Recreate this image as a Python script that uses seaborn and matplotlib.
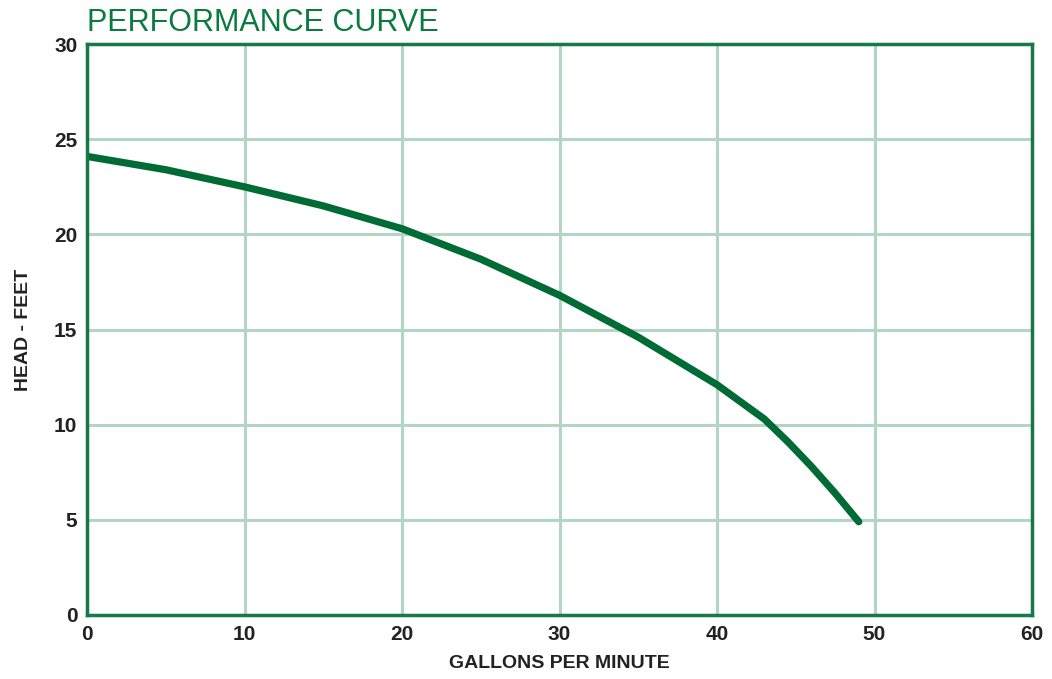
import seaborn as sns
import pandas as pd
from matplotlib import pyplot as plt

# values
GPM = [0, 5, 10, 15, 20, 25, 30, 35, 40, 41.5, 43, 44.5, 46, 47.5, 49]
HEAD = [24.1, 23.4, 22.5, 21.5, 20.3, 18.7, 16.8, 14.6, 12.1, 11.2, 10.3, 9.1, 7.8, 6.4, 4.9]
X_TICKS = [0, 10, 20, 30, 40, 50, 60]
Y_TICKS = [0, 5, 10, 15, 20, 25, 30]

GREEN = "#006b35"
SPINE = "#157a45"
GRID = "#b3d6c4"
FONT = ["Liberation Sans Narrow", "Liberation Sans", "DejaVu Sans"]

sns.set_style("white")
plt.rcParams["font.family"] = FONT

data = pd.DataFrame({"gpm": GPM, "head": HEAD})

fig = plt.figure(figsize=(10.52, 6.79), dpi=100)
ax = fig.add_axes([0.0827, 0.0943, 0.8983, 0.8407])

sns.lineplot(data=data, x="gpm", y="head", color=GREEN, linewidth=5.2,
             solid_capstyle="round", solid_joinstyle="round", ax=ax)

ax.set_xlim(0, 60)
ax.set_ylim(0, 30)
ax.set_xticks(X_TICKS)
ax.set_yticks(Y_TICKS)
ax.tick_params(length=0, labelsize=15, labelcolor="#222222", pad=7)
for lab in ax.get_xticklabels() + ax.get_yticklabels():
    lab.set_fontweight("bold")

ax.grid(True, color=GRID, linewidth=2.2)
ax.set_axisbelow(True)
for s in ax.spines.values():
    s.set_color(SPINE)
    s.set_linewidth(2.5)

ax.set_xlabel("GALLONS PER MINUTE", fontsize=14, fontweight="bold", color="#222222", labelpad=8)
ax.set_ylabel("HEAD - FEET", fontsize=14, fontweight="bold", color="#222222", labelpad=16)

fig.text(0.0827, 0.954, "PERFORMANCE CURVE", fontsize=22, color="#0a7a3e",
         ha="left", va="baseline")

fig.savefig("out.png", dpi=100)
